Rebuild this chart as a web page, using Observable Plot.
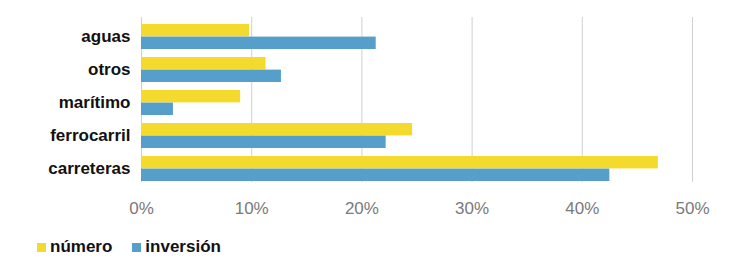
<!DOCTYPE html>
<html>
<head>
<meta charset="utf-8">
<script src="https://cdn.jsdelivr.net/npm/d3@7"></script>
<script src="https://cdn.jsdelivr.net/npm/@observablehq/plot@0.6"></script>
<style>
  html, body { margin: 0; padding: 0; background: #fff; }
  #wrap { position: relative; width: 750px; height: 269px; }
  #legend { position: absolute; left: 37px; top: 238px; display: flex; align-items: center;
    font: bold 17px "Liberation Sans", Arial, sans-serif; line-height: 17px; color: #111; }
  #legend .sw { display: inline-block; width: 9px; height: 9px; margin-right: 4px; position: relative; top: 1px; }
  #legend .item { display: flex; align-items: center; margin-right: 20px; }
</style>
</head>
<body>
<div id="wrap"><div id="chart"></div><div id="legend"></div></div>
<script>
const categories = ["aguas", "otros", "marítimo", "ferrocarril", "carreteras"];
const numero = [9.8, 11.3, 9.0, 24.6, 46.9];
const inversion = [21.3, 12.7, 2.9, 22.2, 42.5];
const seriesNames = ["número", "inversión"];
const seriesColors = ["#f5da2e", "#569fcb"];
const xTicks = [0, 10, 20, 30, 40, 50];

const rowsNumero = categories.map((c, i) => ({category: c, value: numero[i]}));
const rowsInversion = categories.map((c, i) => ({category: c, value: inversion[i]}));

const half = 12.6;

const chart = Plot.plot({
  width: 750,
  height: 226,
  marginLeft: 141,
  marginRight: 58,
  marginTop: 17,
  marginBottom: 44,
  style: {fontFamily: "'Liberation Sans', Arial, sans-serif", background: "#fff"},
  x: {domain: [0, 50], ticks: xTicks, tickFormat: d => d + "%"},
  y: {domain: categories, range: [24, 182], paddingInner: 0.24, paddingOuter: 0},
  marks: [
    Plot.ruleX(xTicks, {stroke: "#d0d0d0", strokeWidth: 1}),
    Plot.barX(rowsNumero, {x: "value", y: "category", fill: seriesColors[0], insetBottom: half}),
    Plot.barX(rowsInversion, {x: "value", y: "category", fill: seriesColors[1], insetTop: half}),
    Plot.axisX({ticks: xTicks, tickFormat: d => d + "%", tickSize: 0, tickPadding: 19,
      fontSize: 17, fill: "#7a7a7a", label: null}),
    Plot.axisY({tickSize: 0, tickPadding: 11, fontSize: 17, fontWeight: "bold", fill: "#111", label: null})
  ]
});
document.getElementById("chart").appendChild(chart);

const legend = document.getElementById("legend");
seriesNames.forEach((name, i) => {
  const item = document.createElement("span");
  item.className = "item";
  const sw = document.createElement("span");
  sw.className = "sw";
  sw.style.background = seriesColors[i];
  item.appendChild(sw);
  item.appendChild(document.createTextNode(name));
  legend.appendChild(item);
});
</script>
</body>
</html>
